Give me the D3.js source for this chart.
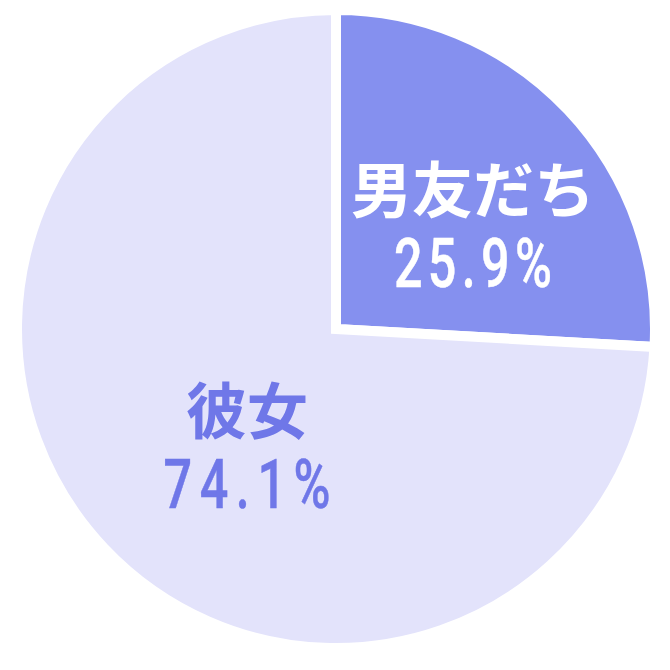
<!DOCTYPE html>
<html>
<head>
<meta charset="utf-8">
<script src="https://cdn.jsdelivr.net/npm/d3@7"></script>
<style>
  html, body { margin: 0; padding: 0; background: #fff; }
  svg { display: block; }
</style>
</head>
<body>
<svg id="chart" width="670" height="670"></svg>
<script>
// data
const categories = ["男友だち", "彼女"];
const shares = [25.9, 74.1];
const valueLabels = ["25.9%", "74.1%"];

// layout
const width = 670, height = 670;
const cx = 336, cy = 329, radius = 319;
const sliceColors = ["#8590ef", "#e3e3fb"];
const textColors = ["#ffffff", "#6f77e8"];
const labelOffsets = [[21, 26], [27, 27]];
const valueWidths = [158, 167];
const squeeze = 0.74; // the numbers use a narrow face

const svg = d3.select("#chart");
const g = svg.append("g").attr("transform", `translate(${cx},${cy})`);

const pie = d3.pie().sort(null).value(d => d)(shares);
const arc = d3.arc().innerRadius(0).outerRadius(radius);
const labelArc = d3.arc().innerRadius(radius * 0.5).outerRadius(radius * 0.5);

g.selectAll("path")
  .data(pie)
  .join("path")
  .attr("d", arc)
  .attr("fill", (d, i) => sliceColors[i])
  .attr("stroke", "#fff")
  .attr("stroke-width", 10)
  .attr("stroke-linejoin", "miter");

const labels = g.selectAll("g.label")
  .data(pie)
  .join("g")
  .attr("class", "label")
  .attr("transform", (d, i) => {
    const [x, y] = labelArc.centroid(d);
    return `translate(${x + labelOffsets[i][0]},${y + labelOffsets[i][1]})`;
  });

labels.append("text")
  .attr("text-anchor", "middle")
  .attr("y", -32)
  .attr("font-family", "'Noto Sans CJK JP', sans-serif")
  .attr("font-weight", 700)
  .attr("font-size", 61)
  .attr("fill", (d, i) => textColors[i])
  .text((d, i) => categories[i]);

labels.append("text")
  .attr("text-anchor", "middle")
  .attr("y", 42)
  .attr("transform", `scale(${squeeze},1)`)
  .attr("font-family", "Roboto, 'Liberation Sans', sans-serif")
  .attr("font-weight", 500)
  .attr("font-size", 68)
  .attr("textLength", (d, i) => valueWidths[i] / squeeze)
  .attr("lengthAdjust", "spacing")
  .attr("fill", (d, i) => textColors[i])
  .attr("stroke", (d, i) => textColors[i])
  .attr("stroke-width", 0.5)
  .text((d, i) => valueLabels[i]);
</script>
</body>
</html>
